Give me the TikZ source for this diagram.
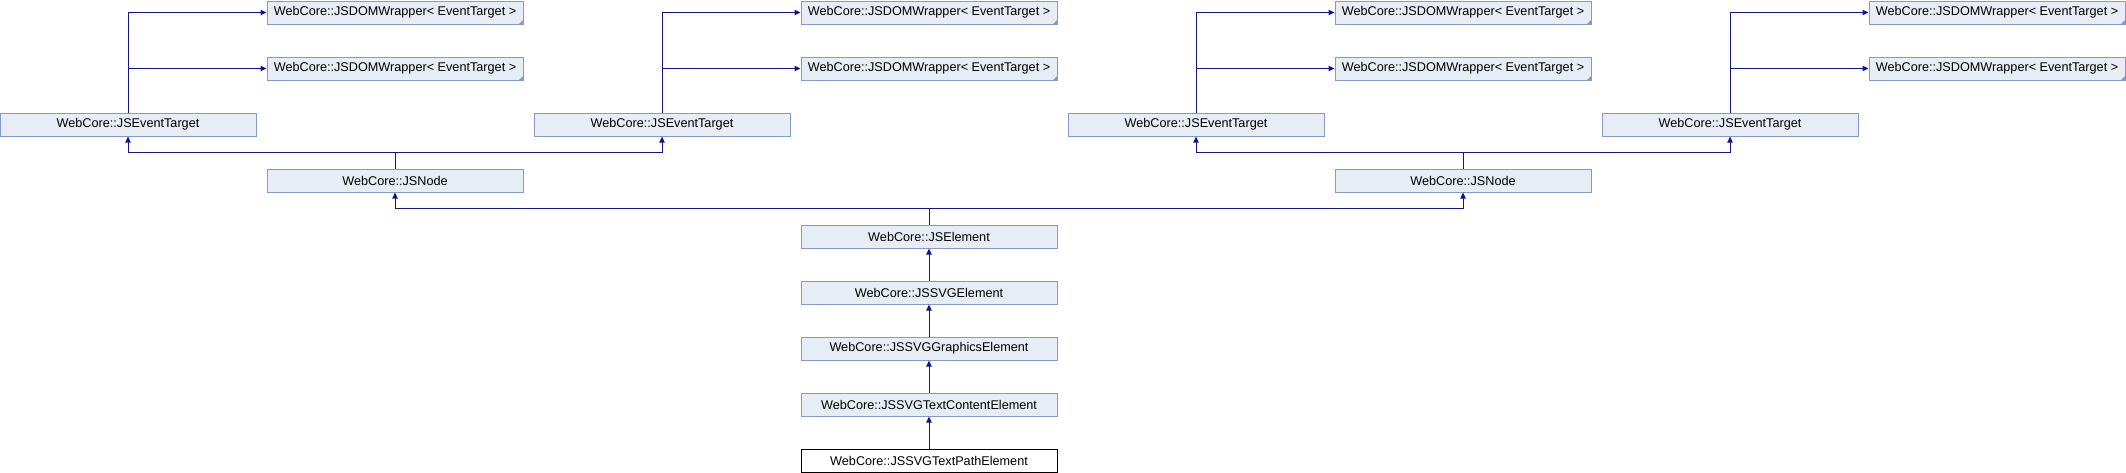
\documentclass[tikz,border=0pt]{standalone}
\usepackage{fontspec}
\setmainfont{Liberation Sans}
\usepackage{tikz}
\usetikzlibrary{arrows.meta}
\definecolor{dxfill}{RGB}{232,236,244}
\definecolor{dxline}{RGB}{132,155,200}
\definecolor{dxedge}{RGB}{20,20,140}

\begin{document}
\begin{tikzpicture}[x=0.75pt,y=-0.75pt,
  cls/.style={draw=dxline,fill=dxfill,line width=0.75pt,minimum width=192pt,minimum height=17.25pt,inner sep=0pt,font=\fontsize{9.5}{11}\selectfont},
  cur/.style={cls,draw=black,fill=white},
  inh/.style={dxedge,line width=0.75pt,-{Triangle[length=4.5pt,width=4pt]}}]
\useasboundingbox (0,0) rectangle (2126,472);
% wrappers (two rows, odd columns)
\foreach \k in {1,3,5,7} {
  \node[cls] (wrpA\k) at ({267*\k+128},12.5) {WebCore::JSDOMWrapper< EventTarget >};
  \node[cls] (wrpB\k) at ({267*\k+128},68.5) {WebCore::JSDOMWrapper< EventTarget >};
  \fill[dxline] (wrpA\k.south east) -- ++(-5,0) -- ++(5,-5) -- cycle;
  \fill[dxline] (wrpB\k.south east) -- ++(-5,0) -- ++(5,-5) -- cycle;
}
% event targets (even columns)
\foreach \k in {0,2,4,6}
  \node[cls] (evt\k) at ({267*\k+128},124.5) {WebCore::JSEventTarget};
% nodes
\node[cls] (jsn1) at (395,180.5) {WebCore::JSNode};
\node[cls] (jsn5) at (1463,180.5) {WebCore::JSNode};
% chain
\node[cls] (jsel) at (929,236.5) {WebCore::JSElement};
\node[cls] (jssvg) at (929,292.5) {WebCore::JSSVGElement};
\node[cls] (jsgfx) at (929,348.5) {WebCore::JSSVGGraphicsElement};
\node[cls] (jstxt) at (929,404.5) {WebCore::JSSVGTextContentElement};
\node[cur] (jspath) at (929,460.5) {WebCore::JSSVGTextPathElement};
% edges
\foreach \k [evaluate=\k as \n using int(\k+1)] in {0,2,4,6} {
  \draw[inh] (evt\k.north) |- (wrpA\n.west);
  \draw[inh] (evt\k.north) |- (wrpB\n.west);
}
\draw[inh] (jsn1.north) -- ++(0,-16) -| (evt0.south);
\draw[inh] (jsn1.north) -- ++(0,-16) -| (evt2.south);
\draw[inh] (jsn5.north) -- ++(0,-16) -| (evt4.south);
\draw[inh] (jsn5.north) -- ++(0,-16) -| (evt6.south);
\draw[inh] (jsel.north) -- ++(0,-16) -| (jsn1.south);
\draw[inh] (jsel.north) -- ++(0,-16) -| (jsn5.south);
\draw[inh] (jssvg) -- (jsel);
\draw[inh] (jsgfx) -- (jssvg);
\draw[inh] (jstxt) -- (jsgfx);
\draw[inh] (jspath) -- (jstxt);
\end{tikzpicture}
\end{document}
